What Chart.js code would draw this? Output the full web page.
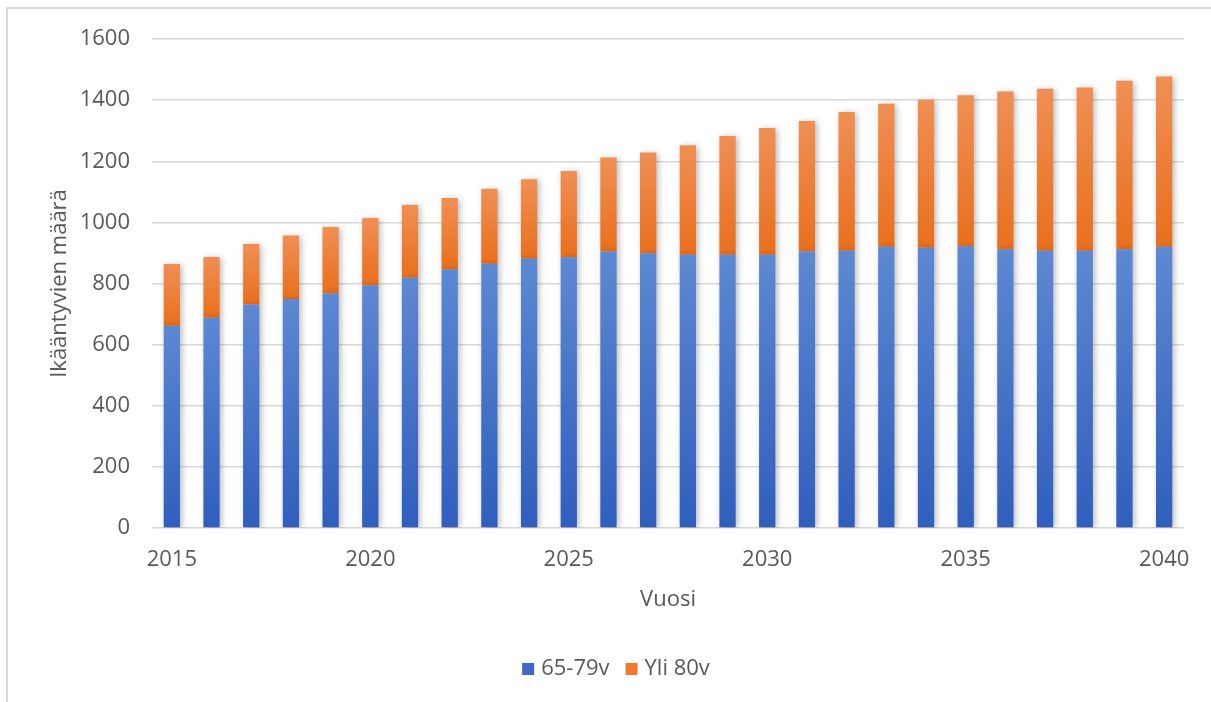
<!DOCTYPE html>
<html>
<head>
<meta charset="utf-8">
<script src="https://cdn.jsdelivr.net/npm/chart.js@4/dist/chart.umd.min.js"></script>
<style>
  html, body { margin: 0; padding: 0; background: #ffffff; }
  #wrap { width: 1211px; height: 702px; position: relative; }
</style>
</head>
<body>
<div id="wrap"><canvas id="chart" width="1211" height="702"></canvas></div>
<script>
// Vuodet (x-akselin luokat)
const years = ['2015', '2016', '2017', '2018', '2019', '2020', '2021', '2022', '2023', '2024',
               '2025', '2026', '2027', '2028', '2029', '2030', '2031', '2032', '2033', '2034',
               '2035', '2036', '2037', '2038', '2039', '2040'];

// Ikäryhmä 65-79 v
const age65to79 = [662, 688, 731, 749, 767, 794, 819, 847, 865, 881,
                   886, 905, 899, 894, 894, 894, 905, 907, 920, 917,
                   922, 912, 907, 907, 912, 920];

// Ikäryhmä yli 80 v
const over80 = [202, 199, 198, 208, 218, 220, 238, 233, 245, 260,
                282, 307, 330, 358, 389, 415, 427, 454, 468, 484,
                494, 516, 530, 534, 551, 557];

// Näytettävät vuosiluvut x-akselilla
const shownYearLabels = ['2015', '2020', '2025', '2030', '2035', '2040'];

const seriesNames = ['65-79v', 'Yli 80v'];

const FONT = '"Open Sans", "Liberation Sans", sans-serif';
const TEXT = '#595959';
const GRID = '#d9d9d9';

// Pystysuuntainen liukuväri jokaiselle pinotulle palkin osalle
function segmentFill(light, dark) {
  return function (ctx) {
    const chart = ctx.chart;
    if (!chart.chartArea || ctx.type !== 'data') return dark;
    const y = chart.scales.y;
    let base = 0;
    for (let d = 0; d < ctx.datasetIndex; d++) {
      base += chart.data.datasets[d].data[ctx.dataIndex];
    }
    const top = y.getPixelForValue(base + ctx.raw);
    const bottom = y.getPixelForValue(base);
    if (!isFinite(top) || !isFinite(bottom) || top === bottom) return dark;
    const g = chart.ctx.createLinearGradient(0, top, 0, bottom);
    g.addColorStop(0, light);
    g.addColorStop(1, dark);
    return g;
  };
}

const legendColors = ['#3f69c6', '#f07b2e'];

// Kehys kaavion ylä- ja vasempaan reunaan
const framePlugin = {
  id: 'frame',
  beforeDraw(chart) {
    const c = chart.ctx;
    c.save();
    c.strokeStyle = '#d9d9d9';
    c.lineWidth = 2;
    c.beginPath();
    c.moveTo(7, 702);
    c.lineTo(7, 8);
    c.lineTo(1211, 8);
    c.stroke();
    c.restore();
  }
};

// Pehmeä varjo palkkien ympärille
const shadowPlugin = {
  id: 'barShadow',
  beforeDatasetsDraw(chart) {
    const c = chart.ctx;
    c.save();
    c.shadowColor = 'rgba(0, 0, 0, 0.28)';
    c.shadowBlur = 6;
    c.shadowOffsetX = 2;
    c.shadowOffsetY = 1;
  },
  afterDatasetsDraw(chart) {
    chart.ctx.restore();
  }
};

// Selite kaavion alaosaan
const legendPlugin = {
  id: 'bottomLegend',
  afterDraw(chart) {
    const c = chart.ctx;
    c.save();
    c.font = '22px ' + FONT;
    c.textBaseline = 'middle';
    const box = 12, gapText = 7, gapItem = 16;
    const items = chart.data.datasets.map((ds, i) => ({
      label: ds.label, color: legendColors[i], w: c.measureText(ds.label).width
    }));
    let total = 0;
    items.forEach((it, i) => { total += box + gapText + it.w + (i < items.length - 1 ? gapItem : 0); });
    let x = 616 - total / 2;
    const cy = 669;
    items.forEach(it => {
      c.fillStyle = it.color;
      c.fillRect(x, cy - box / 2, box, box);
      x += box + gapText;
      c.fillStyle = TEXT;
      c.textAlign = 'left';
      c.fillText(it.label, x, cy);
      x += it.w + gapItem;
    });
    c.restore();
  }
};

new Chart(document.getElementById('chart'), {
  type: 'bar',
  data: {
    labels: years,
    datasets: [
      {
        label: seriesNames[0],
        data: age65to79,
        backgroundColor: segmentFill('#5d88d2', '#2f5ebd'),
        borderWidth: 0,
        categoryPercentage: 1,
        barPercentage: 0.41
      },
      {
        label: seriesNames[1],
        data: over80,
        backgroundColor: segmentFill('#f08f55', '#e96f1c'),
        borderWidth: 0,
        categoryPercentage: 1,
        barPercentage: 0.41
      }
    ]
  },
  options: {
    responsive: false,
    animation: false,
    layout: { padding: { left: 0, right: 27, top: 39, bottom: 0 } },
    plugins: {
      legend: { display: false },
      tooltip: { enabled: false },
      title: { display: false }
    },
    scales: {
      x: {
        stacked: true,
        grid: { display: false, drawTicks: false },
        border: { display: false },
        ticks: {
          autoSkip: false,
          maxRotation: 0,
          padding: 19,
          color: TEXT,
          font: { family: FONT, size: 22 },
          callback(value) {
            const lbl = this.getLabelForValue(value);
            return shownYearLabels.includes(lbl) ? lbl : '';
          }
        },
        title: {
          display: true,
          text: 'Vuosi',
          color: TEXT,
          font: { family: FONT, size: 22 },
          padding: { top: 0, bottom: 89 }
        },
        afterFit(scale) { scale.height = 174; }
      },
      y: {
        stacked: true,
        min: 0,
        max: 1600,
        grid: { color: GRID, lineWidth: 1.5, drawTicks: false },
        border: { display: false },
        ticks: {
          stepSize: 200,
          padding: 22,
          color: TEXT,
          font: { family: FONT, size: 22 },
          callback(value) { return String(value); }
        },
        title: {
          display: true,
          text: 'Ikääntyvien määrä',
          color: TEXT,
          font: { family: FONT, size: 22 },
          padding: { top: 47, bottom: 0 }
        },
        afterFit(scale) { scale.width = 152; }
      }
    }
  },
  plugins: [framePlugin, shadowPlugin, legendPlugin]
});
</script>
</body>
</html>
